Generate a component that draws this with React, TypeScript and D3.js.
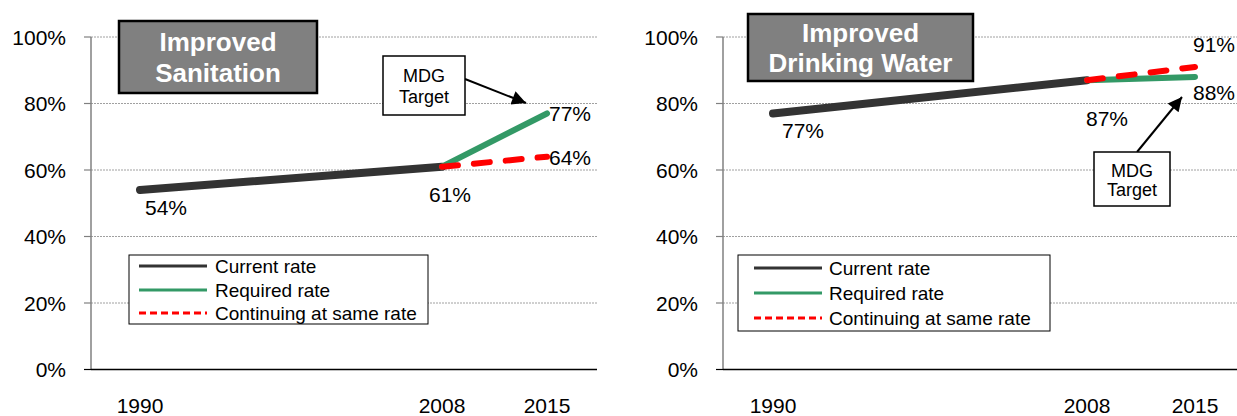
import React from "react";
import * as d3 from "d3";

// ---- Data ----
const years = [1990, 2008, 2015];
const yTicks = [0, 20, 40, 60, 80, 100];
const legendLabels = ["Current rate", "Required rate", "Continuing at same rate"];

const sanitationTitle = ["Improved", "Sanitation"];
const sanitationCurrent = [
  { year: 1990, value: 54 },
  { year: 2008, value: 61 },
];
const sanitationRequired = [
  { year: 2008, value: 61 },
  { year: 2015, value: 77 },
];
const sanitationContinuing = [
  { year: 2008, value: 61 },
  { year: 2015, value: 64 },
];

const waterTitle = ["Improved", "Drinking Water"];
const waterCurrent = [
  { year: 1990, value: 77 },
  { year: 2008, value: 87 },
];
const waterRequired = [
  { year: 2008, value: 87 },
  { year: 2015, value: 88 },
];
const waterContinuing = [
  { year: 2008, value: 87 },
  { year: 2015, value: 91 },
];

const FONT = "Arial, 'Liberation Sans', sans-serif";
const C_CURRENT = "#333333";
const C_REQ = "#339966";
const C_CONT = "#ff0000";

type Pt = { year: number; value: number };

interface PanelProps {
  id: string;
  axisX: number;
  plotRight: number;
  xRange: number[];
  title: string[];
  titleBox: { x: number; y: number; w: number; h: number; b1: number; b2: number };
  current: Pt[];
  required: Pt[];
  continuing: Pt[];
  labels: { pt: Pt; dx: number; dy: number; anchor: string }[];
  mdgBox: { x: number; y: number; w: number; h: number; b1: number; b2: number };
  arrow: { x1: number; y1: number; x2: number; y2: number };
  legend: { x: number; y: number; w: number; h: number; rows: number[]; lx1: number; lx2: number; tx: number };
}

const yTop = 37;
const yBottom = 369.5;

function Panel(p: PanelProps) {
  const x = d3.scaleLinear().domain(years).range(p.xRange);
  const y = d3.scaleLinear().domain([0, 100]).range([yBottom, yTop]);
  const line = d3
    .line<Pt>()
    .x((d) => x(d.year))
    .y((d) => y(d.value));
  const ax = p.axisX;
  return (
    <g>
      <defs>
        <marker
          id={"arrow-" + p.id}
          viewBox="0 0 10 10"
          refX="10"
          refY="5"
          markerWidth="8"
          markerHeight="7"
          markerUnits="strokeWidth"
          orient="auto"
        >
          <path d="M0,0 L10,5 L0,10 z" fill="#000" />
        </marker>
      </defs>
      {/* gridlines */}
      {yTicks
        .filter((t) => t > 0)
        .map((t) => (
          <line
            key={"g" + t}
            x1={ax}
            x2={p.plotRight}
            y1={y(t)}
            y2={y(t)}
            stroke="#a0a0a0"
            strokeWidth={1}
            strokeDasharray="2 1"
          />
        ))}
      {/* y axis */}
      <line x1={ax} x2={ax} y1={yTop} y2={yBottom} stroke="#808080" strokeWidth={1.5} />
      {yTicks.map((t) => (
        <g key={"t" + t}>
          <line x1={ax - 7} x2={ax} y1={y(t)} y2={y(t)} stroke={t === 0 ? "#000" : "#808080"} strokeWidth={1.2} />
          <text
            x={ax - 25}
            y={y(t)}
            dy="0.36em"
            textAnchor="end"
            fontFamily={FONT}
            fontSize={21}
            fill="#000"
          >
            {t + "%"}
          </text>
        </g>
      ))}
      {/* x axis */}
      <line x1={ax} x2={p.plotRight} y1={yBottom} y2={yBottom} stroke="#000" strokeWidth={1.5} />
      {years.map((yr) => (
        <text key={"yr" + yr} x={x(yr)} y={413} textAnchor="middle" fontFamily={FONT} fontSize={21} fill="#000">
          {yr}
        </text>
      ))}
      {/* title box */}
      <rect
        x={p.titleBox.x}
        y={p.titleBox.y}
        width={p.titleBox.w}
        height={p.titleBox.h}
        fill="#808080"
        stroke="#000"
        strokeWidth={2.5}
      />
      {p.title.map((t, i) => (
        <text
          key={"ti" + i}
          x={p.titleBox.x + p.titleBox.w / 2}
          y={i === 0 ? p.titleBox.b1 : p.titleBox.b2}
          textAnchor="middle"
          fontFamily={FONT}
          fontWeight="bold"
          fontSize={26}
          fill="#ffffff"
        >
          {t}
        </text>
      ))}
      {/* series */}
      <path d={line(p.current) || ""} fill="none" stroke={C_CURRENT} strokeWidth={8} strokeLinecap="round" />
      <path d={line(p.required) || ""} fill="none" stroke={C_REQ} strokeWidth={6} strokeLinecap="round" />
      <path
        d={line(p.continuing) || ""}
        fill="none"
        stroke={C_CONT}
        strokeWidth={6}
        strokeLinecap="round"
        strokeDasharray="16 16"
      />
      {/* data labels */}
      {p.labels.map((l, i) => (
        <text
          key={"l" + i}
          x={x(l.pt.year) + l.dx}
          y={y(l.pt.value) + l.dy}
          textAnchor={l.anchor as any}
          fontFamily={FONT}
          fontSize={21}
          fill="#000"
        >
          {l.pt.value + "%"}
        </text>
      ))}
      {/* MDG target box + arrow */}
      <line
        x1={p.arrow.x1}
        y1={p.arrow.y1}
        x2={p.arrow.x2}
        y2={p.arrow.y2}
        stroke="#000"
        strokeWidth={2}
        markerEnd={`url(#arrow-${p.id})`}
      />
      <rect
        x={p.mdgBox.x}
        y={p.mdgBox.y}
        width={p.mdgBox.w}
        height={p.mdgBox.h}
        fill="#fff"
        stroke="#000"
        strokeWidth={1.5}
      />
      <text x={p.mdgBox.x + p.mdgBox.w / 2} y={p.mdgBox.b1} textAnchor="middle" fontFamily={FONT} fontSize={18}>
        MDG
      </text>
      <text x={p.mdgBox.x + p.mdgBox.w / 2} y={p.mdgBox.b2} textAnchor="middle" fontFamily={FONT} fontSize={18}>
        Target
      </text>
      {/* legend */}
      <rect
        x={p.legend.x}
        y={p.legend.y}
        width={p.legend.w}
        height={p.legend.h}
        fill="#fff"
        stroke="#000"
        strokeWidth={1}
      />
      {legendLabels.map((lab, i) => {
        const ry = p.legend.rows[i];
        const color = i === 0 ? C_CURRENT : i === 1 ? C_REQ : C_CONT;
        return (
          <g key={"lg" + i}>
            <line
              x1={p.legend.lx1}
              x2={p.legend.lx2}
              y1={ry}
              y2={ry}
              stroke={color}
              strokeWidth={3}
              strokeDasharray={i === 2 ? "7 4" : undefined}
            />
            <text x={p.legend.tx} y={ry} dy="0.35em" fontFamily={FONT} fontSize={19} fill="#000">
              {lab}
            </text>
          </g>
        );
      })}
    </g>
  );
}

export default function App() {
  return (
    <svg
      width={1237}
      height={416}
      style={{ position: "absolute", left: 0, top: 0, background: "#fff" }}
    >
      <rect x={0} y={0} width={1237} height={416} fill="#fff" />
      <Panel
        id="san"
        axisX={91}
        plotRight={597}
        xRange={[140, 442, 547]}
        title={sanitationTitle}
        titleBox={{ x: 119, y: 21, w: 198, h: 72, b1: 51, b2: 82 }}
        current={sanitationCurrent}
        required={sanitationRequired}
        continuing={sanitationContinuing}
        labels={[
          { pt: sanitationCurrent[0], dx: 5, dy: 25, anchor: "start" },
          { pt: sanitationCurrent[1], dx: 8, dy: 35, anchor: "middle" },
          { pt: sanitationRequired[1], dx: 2, dy: 8, anchor: "start" },
          { pt: sanitationContinuing[1], dx: 2, dy: 8, anchor: "start" },
        ]}
        mdgBox={{ x: 383, y: 56, w: 82, h: 59, b1: 82, b2: 103 }}
        arrow={{ x1: 465, y1: 79, x2: 526, y2: 103 }}
        legend={{ x: 129, y: 255, w: 299, h: 69, rows: [266, 290, 313], lx1: 139, lx2: 207, tx: 215 }}
      />
      <Panel
        id="wat"
        axisX={723}
        plotRight={1237}
        xRange={[773, 1087, 1195]}
        title={waterTitle}
        titleBox={{ x: 748, y: 14, w: 225, h: 67, b1: 42, b2: 72 }}
        current={waterCurrent}
        required={waterRequired}
        continuing={waterContinuing}
        labels={[
          { pt: waterCurrent[0], dx: 9, dy: 25, anchor: "start" },
          { pt: waterCurrent[1], dx: 20, dy: 46, anchor: "middle" },
          { pt: waterContinuing[1], dx: -2, dy: -15, anchor: "start" },
          { pt: waterRequired[1], dx: -2, dy: 23, anchor: "start" },
        ]}
        mdgBox={{ x: 1094, y: 152, w: 76, h: 54, b1: 177, b2: 196 }}
        arrow={{ x1: 1137, y1: 152, x2: 1182, y2: 97 }}
        legend={{ x: 738, y: 255, w: 312, h: 76, rows: [268, 293, 318], lx1: 754, lx2: 822, tx: 829 }}
      />
    </svg>
  );
}
